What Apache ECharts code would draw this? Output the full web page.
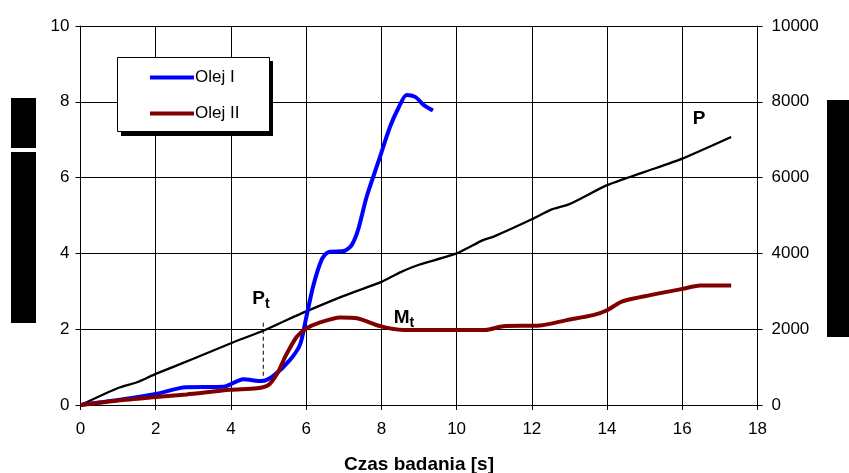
<!DOCTYPE html>
<html>
<head>
<meta charset="utf-8">
<script src="https://cdn.jsdelivr.net/npm/echarts@6/dist/echarts.min.js"></script>
<style>
  html, body { margin: 0; padding: 0; background: #fff; }
  #main { width: 849px; height: 473px; }
</style>
</head>
<body>
<div id="main"></div>
<script>
// Olej I (blue), left axis
var olej1X = [0, 1, 2, 2.8, 3.8, 4.33, 4.82, 5.12, 5.57, 5.84, 6.0, 6.19, 6.41, 6.58, 7.03, 7.21, 7.38, 7.61, 7.92, 8.23, 8.45, 8.67, 8.9, 9.12, 9.37];
var olej1Y = [0, 0.13, 0.29, 0.47, 0.48, 0.68, 0.63, 0.76, 1.19, 1.6, 2.3, 3.15, 3.83, 4.03, 4.07, 4.22, 4.62, 5.5, 6.42, 7.34, 7.83, 8.18, 8.13, 7.92, 7.77];
// Olej II (dark red), left axis
var olej2X = [0, 1, 2, 2.82, 3.98, 4.69, 5.0, 5.26, 5.44, 5.75, 6.02, 6.32, 6.9, 7.35, 7.97, 8.58, 9.5, 10.76, 11.24, 12.22, 12.93, 13.63, 14.0, 14.39, 15.15, 15.94, 16.48, 17.3];
var olej2Y = [0, 0.12, 0.21, 0.28, 0.4, 0.44, 0.53, 0.88, 1.27, 1.8, 2.03, 2.16, 2.31, 2.29, 2.08, 1.98, 1.98, 1.98, 2.08, 2.1, 2.24, 2.37, 2.5, 2.73, 2.9, 3.05, 3.15, 3.15];
// P, right axis
var pX = [0, 1, 1.5, 2, 3, 4, 4.86, 5.5, 6, 7, 8, 8.5, 9, 10, 10.7, 11, 12, 12.5, 13, 14, 15, 16, 17.3];
var pY = [0, 450, 600, 820, 1220, 1630, 1960, 2250, 2470, 2880, 3250, 3500, 3700, 4000, 4350, 4450, 4900, 5150, 5300, 5800, 6150, 6500, 7070];
// dashed marker under Pt
var ptX = [4.86, 4.86];
var ptY = [2.17, 0.66];

var xTicks = [0, 2, 4, 6, 8, 10, 12, 14, 16, 18];

function zip(xs, ys) {
    var out = [];
    for (var i = 0; i < xs.length; i++) out.push([xs[i], ys[i]]);
    return out;
}

var FONT = 'Liberation Sans, Arial, sans-serif';
var chart = echarts.init(document.getElementById('main'));

var subLabel = function (big, small) {
    return {
        show: true,
        formatter: '{b|' + big + '}{s|' + small + '}',
        rich: {
            b: { fontFamily: FONT, fontSize: 19, fontWeight: 'bold', color: '#000' },
            s: { fontFamily: FONT, fontSize: 14, fontWeight: 'bold', color: '#000', padding: [10, 0, 0, 0] }
        }
    };
};

var option = {
    animation: false,
    grid: { left: 80.5, right: 91.5, top: 26, bottom: 68, outerBoundsMode: 'none' },
    xAxis: {
        type: 'value', min: 0, max: 18, interval: 2,
        name: 'Czas badania [s]', nameLocation: 'middle', nameGap: 50,
        nameTextStyle: { fontFamily: FONT, fontSize: 19, fontWeight: 'bold', color: '#000' },
        axisLine: { lineStyle: { color: '#000', width: 1 } },
        axisTick: { show: true, length: 5, lineStyle: { color: '#000' } },
        axisLabel: { fontFamily: FONT, fontSize: 17, color: '#000', margin: 16,
            formatter: function (v) { return xTicks.indexOf(v) >= 0 ? String(v) : ''; } },
        splitLine: { show: true, lineStyle: { color: '#000', width: 1 } }
    },
    yAxis: [{
        type: 'value', min: 0, max: 10, interval: 2,
        axisLine: { show: true, lineStyle: { color: '#000' } },
        axisTick: { show: true, length: 5, lineStyle: { color: '#000' } },
        axisLabel: { fontFamily: FONT, fontSize: 17, color: '#000', margin: 11 },
        splitLine: { show: true, lineStyle: { color: '#000', width: 1 } }
    }, {
        type: 'value', min: 0, max: 10000, interval: 2000, position: 'right',
        axisLine: { show: true, lineStyle: { color: '#000' } },
        axisTick: { show: true, length: 5, lineStyle: { color: '#000' } },
        axisLabel: { fontFamily: FONT, fontSize: 17, color: '#000', margin: 14,
            formatter: function (v) { return String(v); } },
        splitLine: { show: false }
    }],
    legend: {
        data: ['Olej I', 'Olej II'], z: 200,
        orient: 'vertical', left: 145, top: 64,
        icon: 'rect', itemWidth: 44, itemHeight: 4, itemGap: 19,
        textStyle: { fontFamily: FONT, fontSize: 17, color: '#000', padding: [0, 0, 0, -4] }
    },
    graphic: [
        { type: 'rect', z: 90, shape: { x: 121, y: 61, width: 152, height: 75 }, style: { fill: '#000' } },
        { type: 'rect', z: 91, shape: { x: 117.5, y: 57.5, width: 152, height: 74 }, style: { fill: '#fff', stroke: '#000', lineWidth: 1 } },
        { type: 'rect', shape: { x: 11, y: 98, width: 25, height: 50 }, style: { fill: '#000' } },
        { type: 'rect', shape: { x: 11, y: 152, width: 25, height: 171 }, style: { fill: '#000' } },
        { type: 'rect', shape: { x: 827, y: 100, width: 22, height: 237 }, style: { fill: '#000' } }
    ],
    series: [{
        name: 'P', type: 'line', yAxisIndex: 1, data: zip(pX, pY),
        showSymbol: false, smooth: 0.2,
        lineStyle: { color: '#000', width: 2.3 }, z: 3,
        markPoint: {
            symbol: 'circle', symbolSize: 0,
            label: { show: true, formatter: 'P', fontFamily: FONT, fontSize: 19, fontWeight: 'bold', color: '#000' },
            data: [{ coord: [16.45, 7550] }]
        }
    }, {
        name: 'Olej I', type: 'line', data: zip(olej1X, olej1Y),
        showSymbol: false, smooth: 0.25,
        lineStyle: { color: '#0000ff', width: 4 }, itemStyle: { color: '#0000ff' }, z: 4,
        markPoint: {
            symbol: 'circle', symbolSize: 0,
            label: subLabel('P', 't'),
            data: [{ coord: [4.8, 2.8] }]
        }
    }, {
        name: 'Olej II', type: 'line', data: zip(olej2X, olej2Y),
        showSymbol: false, smooth: 0.25,
        lineStyle: { color: '#800000', width: 4 }, itemStyle: { color: '#800000' }, z: 5,
        markPoint: {
            symbol: 'circle', symbolSize: 0,
            label: subLabel('M', 't'),
            data: [{ coord: [8.6, 2.3] }]
        }
    }, {
        name: 'Pt', type: 'line', data: zip(ptX, ptY),
        showSymbol: false,
        lineStyle: { color: '#000', width: 1, type: [4, 3] }, z: 2
    }]
};
chart.setOption(option);
</script>
</body>
</html>
